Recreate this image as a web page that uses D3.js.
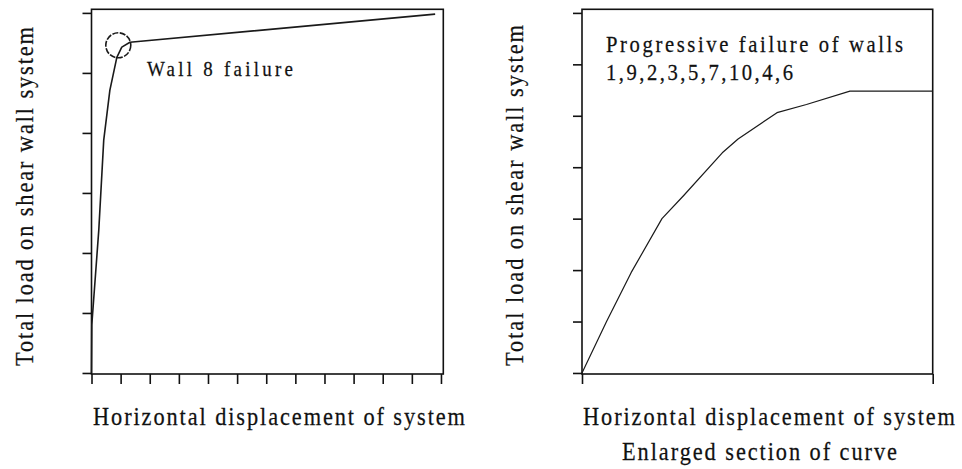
<!DOCTYPE html>
<html>
<head>
<meta charset="utf-8">
<script src="https://cdn.jsdelivr.net/npm/d3@7"></script>
<style>
  html, body { margin: 0; padding: 0; background: #fff; }
  svg { display: block; }
  text { font-family: "Liberation Serif", "DejaVu Serif", serif; fill: #111; stroke: #111; stroke-width: 0.25px; }
</style>
</head>
<body>
<div id="chart"></div>
<script>
// left panel: full load-displacement curve (axis units = tick steps)
const fullX = [0, 0.01, 0.25, 0.42, 0.63, 0.87, 1.04, 1.32, 11.8];
const fullY = [0, 0.8, 2.38, 3.88, 4.71, 5.26, 5.43, 5.51, 5.98];
const fullXTicks = d3.range(0, 13);
const fullYTicks = d3.range(0, 7);
const failurePoint = [0.92, 5.46];

// right panel: enlarged section
const zoomX = [0, 0.07, 0.14, 0.228, 0.29, 0.40, 0.445, 0.556, 0.64, 0.764, 1.0];
const zoomY = [0, 1.0, 1.95, 3.0, 3.45, 4.28, 4.55, 5.06, 5.22, 5.48, 5.48];
const zoomXTicks = [0, 1];
const zoomYTicks = d3.range(0, 8);

const yLabel = 'Total load on shear wall system';
const xLabel = 'Horizontal displacement of system';
const subLabel = 'Enlarged section of curve';
const noteLeft = 'Wall 8  failure';
const noteRight = ['Progressive  failure  of walls', '1,9,2,3,5,7,10,4,6'];

const W = 962, H = 469;
const TICK = 9;

const svg = d3.select('#chart').append('svg')
  .attr('width', W)
  .attr('height', H);

// text squeezed horizontally, spaced out to a given length
function label(txt, x, y, len, size, rot) {
  const sx = 0.86;
  svg.append('text')
    .attr('transform', `translate(${x},${y}) rotate(${rot || 0}) scale(${sx},1)`)
    .attr('font-size', size)
    .attr('textLength', len / sx)
    .attr('lengthAdjust', 'spacing')
    .text(txt);
}

function panel(opts) {
  const x = d3.scaleLinear().domain(opts.xDomain).range(opts.xRange);
  const y = d3.scaleLinear().domain(opts.yDomain).range(opts.yRange);

  const g = svg.append('g');

  g.append('rect')
    .attr('x', opts.xRange[0])
    .attr('y', opts.yRange[1])
    .attr('width', opts.xRange[1] - opts.xRange[0])
    .attr('height', opts.yRange[0] - opts.yRange[1])
    .attr('fill', 'none')
    .attr('stroke', '#111')
    .attr('stroke-width', 1.6);

  const xAxis = g.append('g')
    .attr('transform', 'translate(0,' + opts.yRange[0] + ')')
    .call(d3.axisBottom(x).tickValues(opts.xTicks).tickSize(TICK + 1).tickFormat(''));
  const yAxis = g.append('g')
    .attr('transform', 'translate(' + opts.xRange[0] + ',0)')
    .call(d3.axisLeft(y).tickValues(opts.yTicks).tickSize(TICK).tickFormat(''));

  [xAxis, yAxis].forEach(a => {
    a.select('.domain').remove();
    a.selectAll('.tick line').attr('stroke', '#111').attr('stroke-width', 1.6);
  });

  const line = d3.line()
    .x((d, i) => x(opts.xs[i]))
    .y(d => y(d));

  g.append('path')
    .datum(opts.ys)
    .attr('fill', 'none')
    .attr('stroke', '#1a1a1a')
    .attr('stroke-width', opts.lineWidth)
    .attr('stroke-linejoin', 'round')
    .attr('d', line);

  return {x, y, g};
}

const left = panel({
  xDomain: [0, 12.08], xRange: [91.5, 443.3],
  yDomain: [-0.017, 6.06], yRange: [374, 9.3],
  xTicks: fullXTicks, yTicks: fullYTicks,
  xs: fullX, ys: fullY, lineWidth: 1.6
});

left.g.append('circle')
  .attr('cx', left.x(failurePoint[0]))
  .attr('cy', left.y(failurePoint[1]))
  .attr('r', 12.5)
  .attr('fill', 'none')
  .attr('stroke', '#1a1a1a')
  .attr('stroke-width', 1.6)
  .attr('stroke-dasharray', '6,1.5');

panel({
  xDomain: [0, 1], xRange: [582, 932.7],
  yDomain: [-0.02, 7.07], yRange: [374, 9.3],
  xTicks: zoomXTicks, yTicks: zoomYTicks,
  xs: zoomX, ys: zoomY, lineWidth: 1.2
});

// labels
label(yLabel, 33, 366, 339, 26, -90);
label(yLabel, 523, 366, 341, 26, -90);
label(xLabel, 93, 425, 372, 26);
label(xLabel, 583, 425, 372, 26);
label(subLabel, 622, 460, 275, 26);
label(noteLeft, 147, 76, 146, 22);
label(noteRight[0], 606, 51.5, 297, 24);
label(noteRight[1], 606, 79.5, 187, 24);
</script>
</body>
</html>
